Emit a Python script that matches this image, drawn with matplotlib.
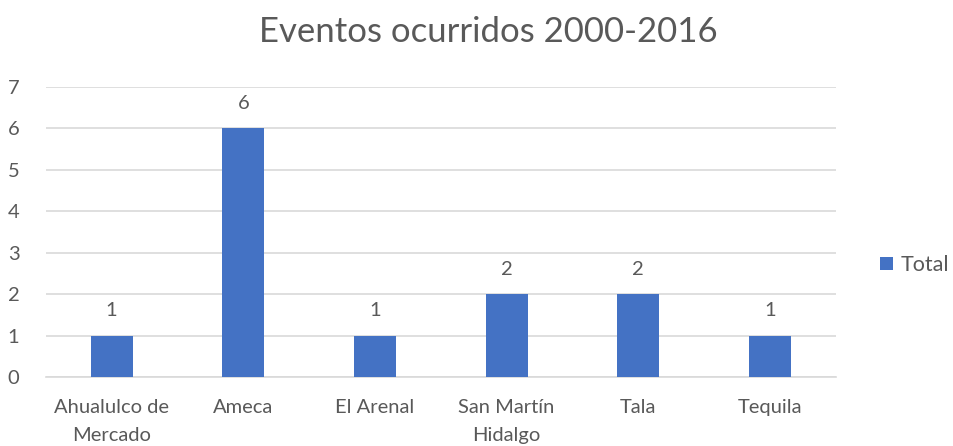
import matplotlib.pyplot as plt
import numpy as np

# data
municipios = ["Ahualulco de\nMercado", "Ameca", "El Arenal", "San Martín\nHidalgo", "Tala", "Tequila"]
eventos = [1, 6, 1, 2, 2, 1]
y_ticks = [0, 1, 2, 3, 4, 5, 6, 7]

plt.rcParams["font.family"] = ["Lato", "DejaVu Sans"]
TXT = "#595959"
BAR = "#4472C4"

fig = plt.figure(figsize=(9.54, 4.46), dpi=100)
ax = fig.add_axes([0.048, 0.1547, 0.828, 0.6503])

x = np.arange(len(municipios))
bars = ax.bar(x, eventos, width=0.32, color=BAR, label="Total", zorder=3)
for xi, v in zip(x, eventos):
    ax.annotate(str(v), (xi, v), xytext=(0, 18), textcoords="offset points",
                ha="center", va="center", fontsize=14.5, color=TXT)

ax.set_xlim(-0.5, len(municipios) - 0.5)
ax.set_ylim(0, 7)
ax.set_yticks(y_ticks)
ax.set_xticks(x)
ax.set_xticklabels(municipios, fontsize=14.5, color=TXT, linespacing=1.75)
ax.tick_params(axis="y", labelsize=14.5, labelcolor=TXT, length=0, pad=19)
ax.tick_params(axis="x", length=0, pad=16)
ax.grid(axis="y", color="#D9D9D9", linewidth=1.2, zorder=0)
for s in ["top", "right", "left"]:
    ax.spines[s].set_visible(False)
ax.spines["bottom"].set_color("#D9D9D9")
ax.spines["bottom"].set_linewidth(1.2)

fig.text(0.512, 0.928, "Eventos ocurridos 2000-2016", ha="center", va="center",
         fontsize=25, color=TXT)

leg = fig.legend(loc="center left", bbox_to_anchor=(0.922, 0.406), frameon=False,
                 fontsize=15.5, handlelength=0.6, handleheight=0.6, handletextpad=0.4,
                 borderaxespad=0, borderpad=0)
for t in leg.get_texts():
    t.set_color(TXT)

fig.savefig("out.png", dpi=100, facecolor="white")
